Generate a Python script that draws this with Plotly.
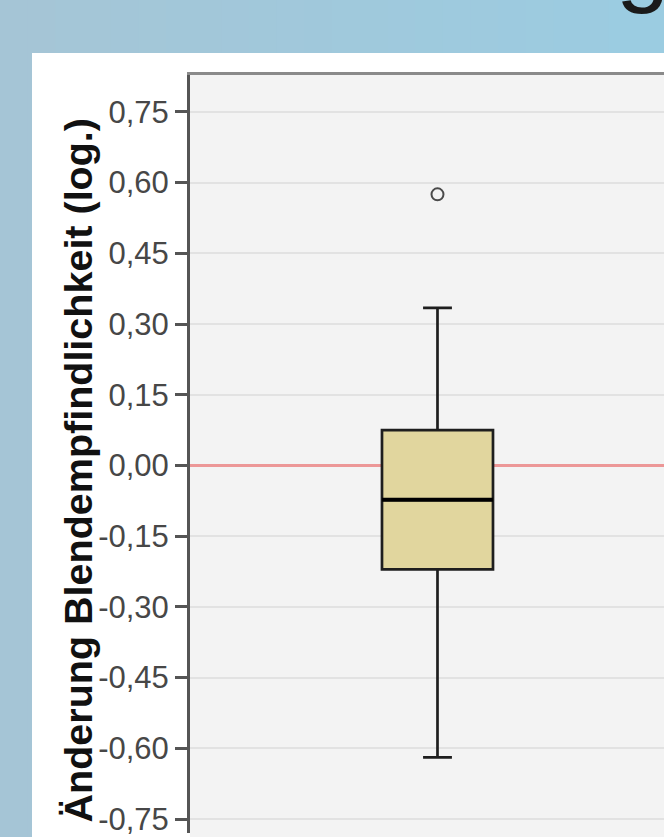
import plotly.graph_objects as go

# ---- data ----
group = [0]
q1_vals = [-0.2205]
median_vals = [-0.0728]
q3_vals = [0.0749]
lower_whisker = [-0.6192]
upper_whisker = [0.3344]
outliers = [0.575]

tick_vals = [0.75, 0.60, 0.45, 0.30, 0.15, 0.00, -0.15, -0.30, -0.45, -0.60, -0.75]
tick_text = ["0,75", "0,60", "0,45", "0,30", "0,15", "0,00", "-0,15", "-0,30", "-0,45", "-0,60", "-0,75"]
y_title = "Änderung Blendempfindlichkeit (log.)"

# ---- geometry ----
W, H = 664, 837
ML, MT = 190, 75
PW, PH = W - ML, H - MT
Y_RANGE = [-0.7795, 0.8281]
X_RANGE = [-1.0, 0.9152]
BOX_W = 0.4485

def px(xp):
    return (xp - ML) / PW

def py(yp):
    return (H - yp) / PH

fig = go.Figure()

fig.add_trace(go.Box(
    x=group, q1=q1_vals, median=median_vals, q3=q3_vals,
    lowerfence=lower_whisker, upperfence=upper_whisker,
    width=BOX_W, whiskerwidth=0.26,
    fillcolor="#E1D69E", line=dict(color="#1e1e1e", width=2.7),
    boxpoints=False, hoverinfo="skip", showlegend=False,
))

fig.add_trace(go.Scatter(
    x=[group[0]] * len(outliers), y=outliers, mode="markers",
    marker=dict(symbol="circle-open", size=12, color="#4a4a4a", line=dict(width=2)),
    hoverinfo="skip", showlegend=False,
))

shapes = []
# background gradient strips
n = 24
c0 = (165, 197, 214)
c1 = (155, 204, 225)
for i in range(n):
    t = i / (n - 1)
    col = "rgb(%d,%d,%d)" % tuple(round(a + (b - a) * t) for a, b in zip(c0, c1))
    shapes.append(dict(type="rect", xref="paper", yref="paper",
                       x0=px(W * i / n), x1=px(W * (i + 1) / n + 1), y0=-0.1, y1=py(-10),
                       fillcolor=col, line=dict(width=0), layer="below"))
# white panel
shapes.append(dict(type="rect", xref="paper", yref="paper",
                   x0=px(32), x1=px(W + 10), y0=-0.1, y1=py(53),
                   fillcolor="white", line=dict(width=0), layer="below"))
# plot area background
shapes.append(dict(type="rect", xref="paper", yref="paper",
                   x0=0, x1=1.05, y0=-0.1, y1=1,
                   fillcolor="#F3F3F3", line=dict(width=0), layer="below"))
# thick median line
shapes.append(dict(type="line", xref="x", yref="y",
                   x0=group[0] - BOX_W / 2, x1=group[0] + BOX_W / 2,
                   y0=median_vals[0], y1=median_vals[0],
                   line=dict(color="#000000", width=4), layer="above"))

fig.update_layout(
    width=W, height=H,
    margin=dict(l=ML, r=0, t=MT, b=0, pad=0),
    paper_bgcolor="#A0C8DB",
    plot_bgcolor="#F3F3F3",
    shapes=shapes,
    showlegend=False,
    annotations=[
        dict(text="<b>%s</b>" % y_title, xref="paper", yref="paper",
             x=px(78), y=py(472.5), xanchor="center", yanchor="middle",
             textangle=-90, showarrow=False,
             font=dict(family="Liberation Sans, Arial, sans-serif", size=39.5, color="#111111")),
        dict(text="g", xref="paper", yref="paper",
             x=px(642), y=py(16), xanchor="center", yanchor="bottom",
             showarrow=False,
             font=dict(family="Liberation Sans, Arial, sans-serif", size=96, color="#1a1a1a")),
    ],
    xaxis=dict(range=X_RANGE, side="top", showgrid=False, zeroline=False,
               showticklabels=False, ticks="", showline=True,
               linecolor="#8a8a8a", linewidth=3, fixedrange=True),
    yaxis=dict(range=Y_RANGE, tickmode="array", tickvals=tick_vals, ticktext=tick_text,
               ticks="outside", ticklen=12, tickwidth=3, tickcolor="#555555",
               showline=True, linecolor="#555555", linewidth=3,
               showgrid=True, gridcolor="#E2E2E2", gridwidth=2,
               zeroline=True, zerolinecolor="#EC9797", zerolinewidth=3,
               ticklabeloverflow="allow",
               tickfont=dict(family="Liberation Sans, Arial, sans-serif", size=31, color="#474747"),
               fixedrange=True),
)

fig.write_html(
    "out.html",
    config={"displayModeBar": False},
    post_script="document.body.style.margin='0';document.body.style.overflow='hidden';",
)
